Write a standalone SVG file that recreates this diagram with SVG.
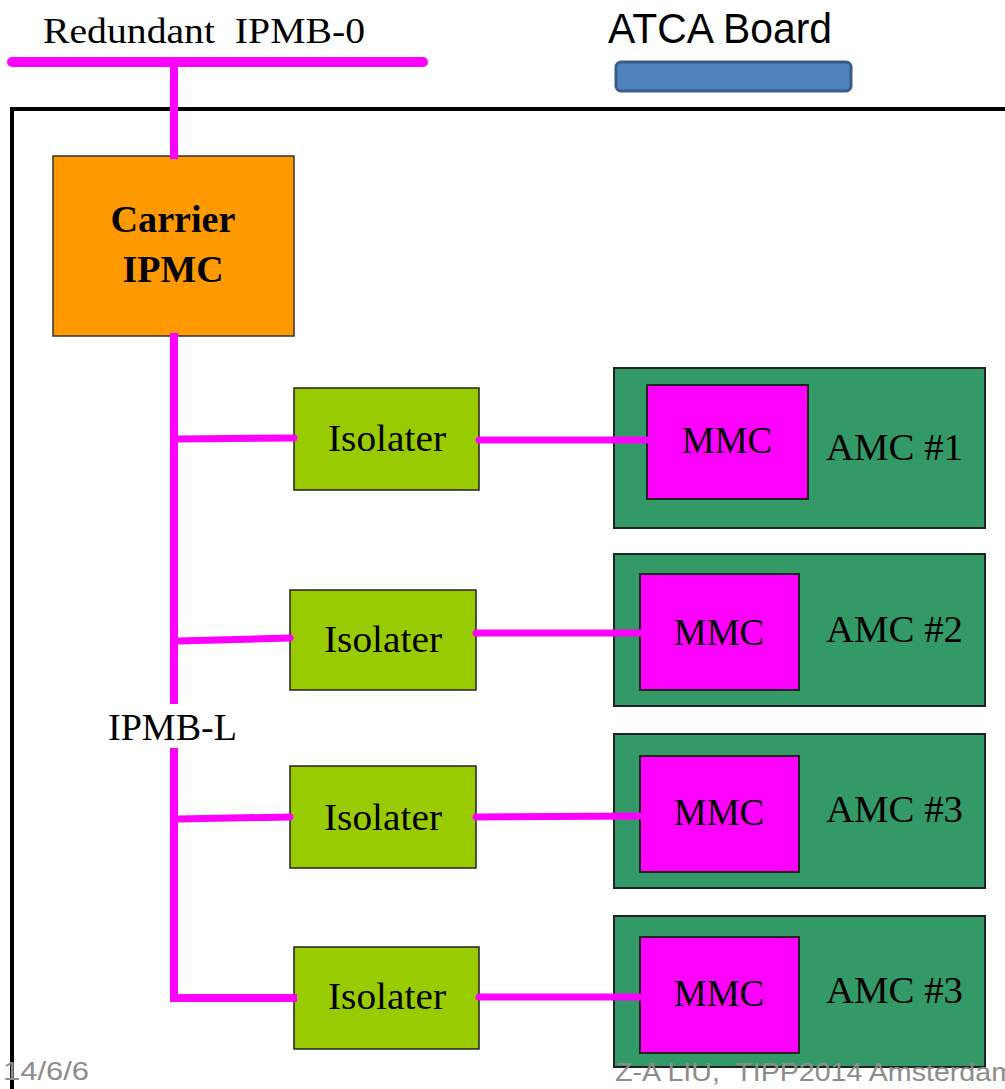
<svg xmlns="http://www.w3.org/2000/svg" width="1005" height="1089" viewBox="0 0 1005 1089">
<style>
.serif{font-family:"Liberation Serif","Times New Roman",serif;fill:#000}
.lbl{font-size:37px}
.bus{stroke:#FF00FF;stroke-width:8;fill:none;stroke-linecap:square}
.br{stroke:#FF00FF;stroke-width:7;fill:none;stroke-linecap:round}
.iso{fill:#99CC00;stroke:#222;stroke-width:1.5}
.amc{fill:#339966;stroke:#222;stroke-width:2}
.mmc{fill:#FF00FF;stroke:#222;stroke-width:2}
.foot{font-family:"Liberation Sans",Arial,sans-serif;font-size:26px;fill:#8C8C8C}
</style>
<rect width="1005" height="1089" fill="#fff"/>
<!-- board outline -->
<path d="M12,1089 V109 H1005" fill="none" stroke="#000" stroke-width="4"/>
<!-- title -->
<text x="608" y="43" font-family="'Liberation Sans',Arial,sans-serif" font-size="42" textLength="224" lengthAdjust="spacingAndGlyphs">ATCA Board</text>
<rect id="legend" x="616" y="62" width="235" height="29" rx="5" fill="#4F81BD" stroke="#385D8A" stroke-width="3"/>
<text class="serif" x="43" y="43" font-size="36" textLength="322" lengthAdjust="spacingAndGlyphs" xml:space="preserve">Redundant  IPMB-0</text>
<text class="serif" x="108" y="740" font-size="38" textLength="129" lengthAdjust="spacingAndGlyphs">IPMB-L</text>
<g id="carrier">
<rect x="53" y="156" width="241" height="180" fill="#FF9900" stroke="#333" stroke-width="1.5"/>
<text class="serif" x="173" y="232" font-size="37" font-weight="bold" text-anchor="middle" textLength="125" lengthAdjust="spacingAndGlyphs">Carrier</text>
<text class="serif" x="173" y="282" font-size="38" font-weight="bold" text-anchor="middle" textLength="101" lengthAdjust="spacingAndGlyphs">IPMC</text>
</g>
<g id="iso1"><rect class="iso" x="294" y="388" width="185" height="102"/><text class="serif lbl" x="387" y="451" text-anchor="middle" textLength="118" lengthAdjust="spacingAndGlyphs">Isolater</text></g>
<g id="iso2"><rect class="iso" x="290" y="590" width="186" height="100"/><text class="serif lbl" x="383" y="652" text-anchor="middle" textLength="118" lengthAdjust="spacingAndGlyphs">Isolater</text></g>
<g id="iso3"><rect class="iso" x="290" y="766" width="186" height="102"/><text class="serif lbl" x="383" y="830" text-anchor="middle" textLength="118" lengthAdjust="spacingAndGlyphs">Isolater</text></g>
<g id="iso4"><rect class="iso" x="294" y="947" width="185" height="102"/><text class="serif lbl" x="387" y="1009" text-anchor="middle" textLength="118" lengthAdjust="spacingAndGlyphs">Isolater</text></g>
<g id="amc1"><rect class="amc" x="614" y="368" width="371" height="160"/><text class="serif lbl" x="826" y="460" textLength="137" lengthAdjust="spacingAndGlyphs">AMC #1</text></g>
<g id="mmc1"><rect class="mmc" x="647" y="385" width="161" height="114"/><text class="serif lbl" x="727" y="453" text-anchor="middle">MMC</text></g>
<g id="amc2"><rect class="amc" x="614" y="554" width="371" height="152"/><text class="serif lbl" x="826" y="642" textLength="137" lengthAdjust="spacingAndGlyphs">AMC #2</text></g>
<g id="mmc2"><rect class="mmc" x="640" y="574" width="159" height="116"/><text class="serif lbl" x="719" y="645" text-anchor="middle">MMC</text></g>
<g id="amc3"><rect class="amc" x="614" y="734" width="371" height="154"/><text class="serif lbl" x="826" y="822" textLength="137" lengthAdjust="spacingAndGlyphs">AMC #3</text></g>
<g id="mmc3"><rect class="mmc" x="640" y="756" width="159" height="116"/><text class="serif lbl" x="719" y="825" text-anchor="middle">MMC</text></g>
<g id="amc4"><rect class="amc" x="614" y="916" width="371" height="151"/><text class="serif lbl" x="826" y="1003" textLength="137" lengthAdjust="spacingAndGlyphs">AMC #3</text></g>
<g id="mmc4"><rect class="mmc" x="640" y="937" width="159" height="116"/><text class="serif lbl" x="719" y="1006" text-anchor="middle">MMC</text></g>
<g id="connectors">
<line x1="12" y1="62" x2="423" y2="62" stroke="#FF00FF" stroke-width="10" stroke-linecap="round"/>
<line class="bus" x1="174" y1="66" x2="174" y2="155"/>
<path class="bus" d="M174,337 V700"/>
<path class="bus" d="M174,752 V998 H293" stroke-linejoin="miter"/>
<line class="br" x1="178" y1="439" x2="294" y2="438"/>
<line class="br" x1="178" y1="641" x2="290" y2="638"/>
<line class="br" x1="178" y1="819" x2="290" y2="817"/>
<line class="br" x1="479" y1="440" x2="646" y2="440"/>
<line class="br" x1="476" y1="633" x2="639" y2="633"/>
<line class="br" x1="476" y1="817" x2="639" y2="816"/>
<line class="br" x1="479" y1="997" x2="639" y2="997"/>
</g>
<text class="foot" x="3" y="1080" textLength="86" lengthAdjust="spacingAndGlyphs">14/6/6</text>
<text class="foot" x="615" y="1081" textLength="400" lengthAdjust="spacingAndGlyphs" xml:space="preserve">Z-A LIU,  TIPP2014 Amsterdam</text>
</svg>
